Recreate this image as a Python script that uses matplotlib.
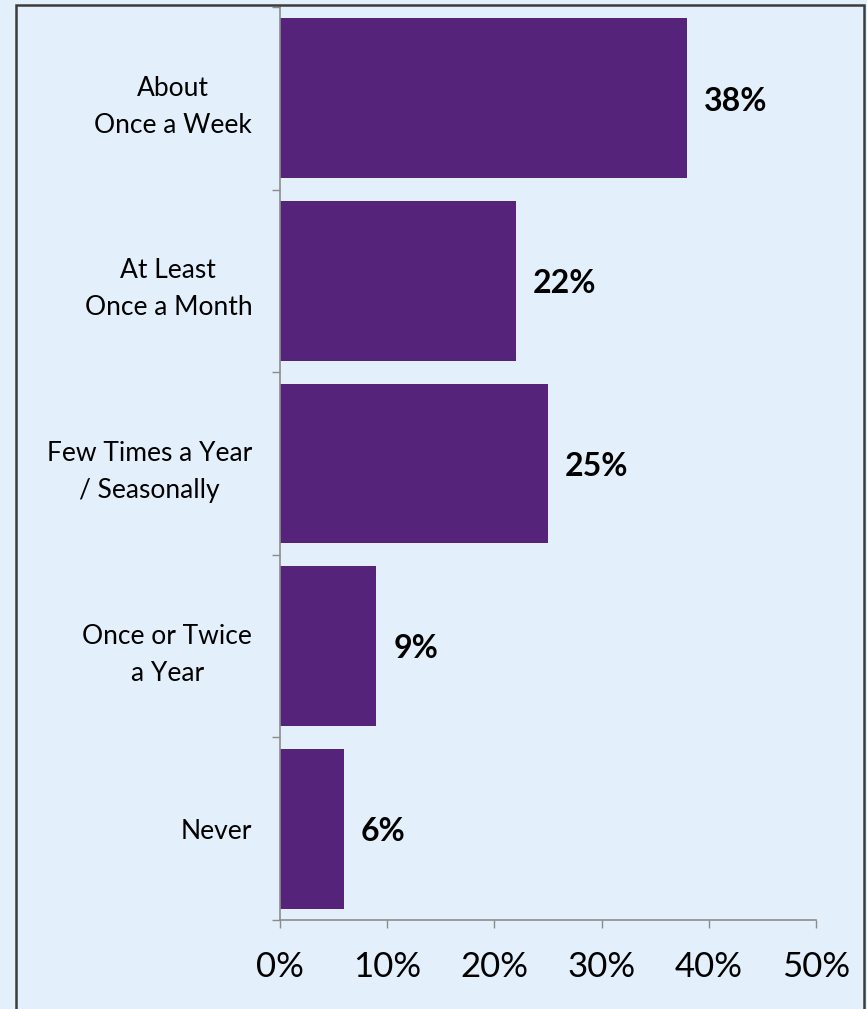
import matplotlib.pyplot as plt
from matplotlib.patches import Rectangle
from matplotlib.ticker import FixedLocator, NullFormatter

# data
categories = ['About\nOnce a Week',
              'At Least\nOnce a Month',
              'Few Times a Year\n/ Seasonally',
              'Once or Twice\na Year',
              'Never']
values = [38, 22, 25, 9, 6]
x_ticks = [0, 10, 20, 30, 40, 50]
x_labels = ['%d%%' % t for t in x_ticks]

BG = '#E3EFFA'
BAR = '#55247A'
AXIS = '#8C8C8C'

plt.rcParams['font.family'] = ['Lato', 'DejaVu Sans']

fig = plt.figure(figsize=(8.67, 10.09), dpi=100, facecolor=BG)
ax = fig.add_axes([280 / 867, 1 - 920 / 1009, 536 / 867, 913 / 1009])
ax.set_facecolor(BG)

pos = list(range(len(categories)))
ax.barh(pos, values, height=0.875, color=BAR)

# value labels
for p, v in zip(pos, values):
    ax.annotate('%d%%' % v, (v, p), xytext=(12, -2), textcoords='offset points',
                ha='left', va='center', fontsize=23, fontweight='bold', color='black')

ax.set_xlim(0, 50)
ax.set_ylim(len(categories) - 0.5, -0.5)

ax.set_xticks(x_ticks)
ax.set_xticklabels(x_labels, fontsize=25)
ax.tick_params(axis='x', length=6, width=1, color=AXIS, pad=16)

# tick marks at category boundaries, labels at centers
ax.yaxis.set_major_locator(FixedLocator([i - 0.5 for i in range(len(categories) + 1)]))
ax.yaxis.set_major_formatter(NullFormatter())
ax.yaxis.set_minor_locator(FixedLocator(pos))
ax.set_yticklabels(categories, minor=True, fontsize=19, multialignment='center',
                   linespacing=1.6)
ax.tick_params(axis='y', which='major', length=6, width=1, color=AXIS)
ax.tick_params(axis='y', which='minor', length=0, pad=20)

for s in ['top', 'right']:
    ax.spines[s].set_visible(False)
for s in ['left', 'bottom']:
    ax.spines[s].set_color(AXIS)
    ax.spines[s].set_linewidth(1.2)

# outer frame
fig.patches.append(Rectangle((16 / 867, -0.05), (864 - 16) / 867, 1.05 - 5 / 1009,
                             transform=fig.transFigure, fill=False,
                             edgecolor='#3C3C3C', linewidth=1.8))

fig.savefig('out.png', dpi=100, facecolor=BG)
